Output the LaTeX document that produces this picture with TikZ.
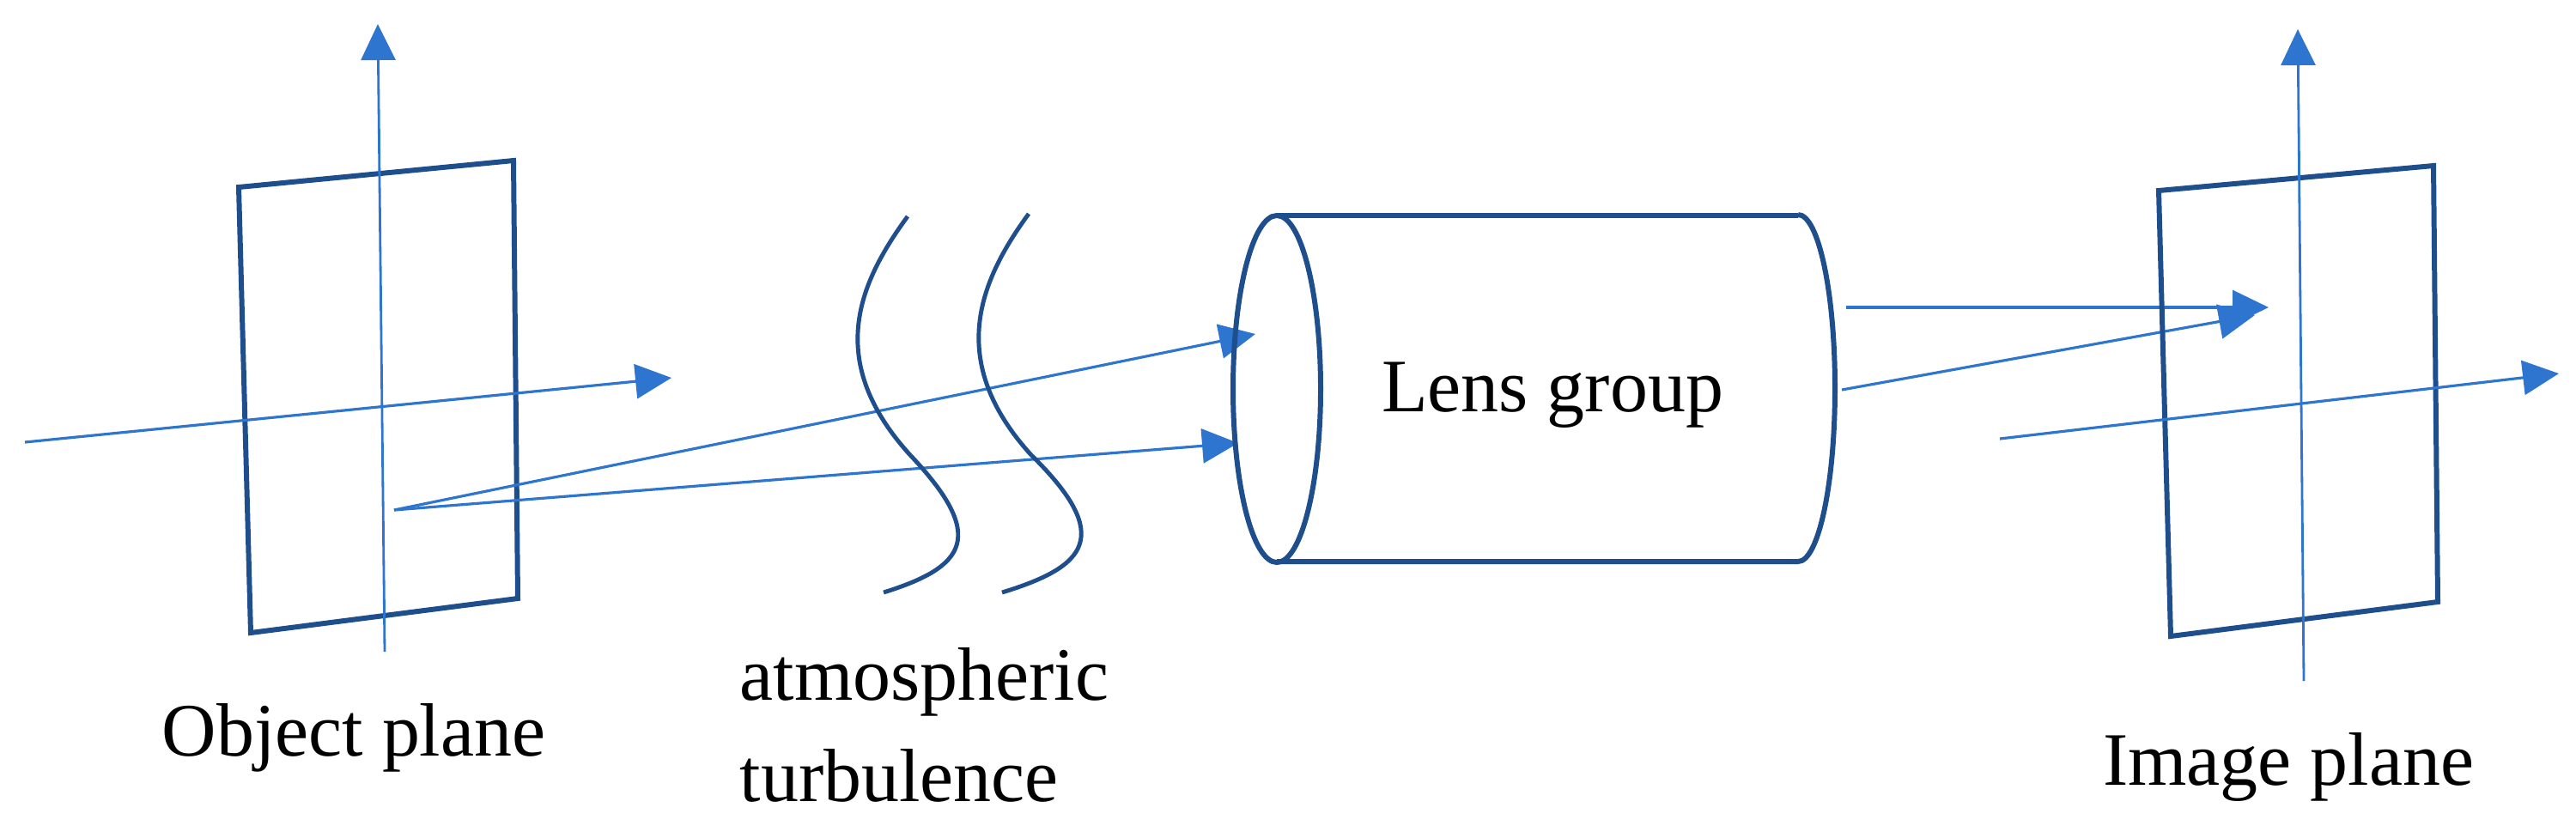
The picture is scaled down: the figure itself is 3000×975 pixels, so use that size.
\documentclass[tikz,border=0pt]{standalone}
\usepackage{fontspec}
\setmainfont{Liberation Serif}
\usetikzlibrary{arrows.meta}
\definecolor{frame}{HTML}{1F4E8C}
\definecolor{ray}{HTML}{2E75D0}
\begin{document}
\begin{tikzpicture}[x=0.01cm,y=-0.01cm,
  box/.style={draw=frame,line width=1.7pt,line join=miter},
  axis/.style={draw=ray,line width=0.8pt},
  beam/.style={draw=ray,line width=0.9pt,-{Triangle[length=0.42cm,width=0.4cm]}},
  lbl/.style={font=\fontsize{25}{30}\selectfont,inner sep=0pt}]
\useasboundingbox (0,0) rectangle (3000,975);
% object plane
\draw[box] (278,218) -- (598,187) -- (603,697) -- (292,737) -- cycle;
\coordinate (ovb) at (448,759); \coordinate (ovt) at (440,28);
\draw[axis,-{Triangle[length=0.42cm,width=0.4cm]}] (ovb) -- (ovt);
\coordinate (ohl) at (29,515); \coordinate (ohr) at (782,440);
\draw[beam] (ohl) -- (ohr);
\coordinate (src) at (459,594);
\coordinate (t1) at (1462,389); \coordinate (t2) at (1442,516);
\draw[beam] (src) -- (t1);
\draw[beam] (src) -- (t2);
% turbulence
\draw[box,line width=1.4pt] (1057,252) .. controls (1000,330) and (960,420) .. (1060,530) .. controls (1150,625) and (1125,660) .. (1029,690);
\draw[box,line width=1.4pt] (1198,249) .. controls (1141,327) and (1101,420) .. (1201,530) .. controls (1298,625) and (1265,660) .. (1167,690);
\node[lbl,anchor=base west] (atm) at (861,815) {atmospheric};
\node[lbl,anchor=base west] (turb) at (861,933) {turbulence};
\node[lbl,anchor=base] (obj) at (412,880) {Object plane};
% lens group
\draw[box] (2094,251) -- (1487,251) arc[start angle=90,end angle=450,x radius=51,y radius=-202];
\draw[box] (1487,654) -- (2094,654) arc[start angle=-90,end angle=90,x radius=43,y radius=-202];
\node[lbl] (lens) at (1808,460) {Lens group};
% out rays
\coordinate (r1s) at (2150,358); \coordinate (r1e) at (2642,358);
\coordinate (r2s) at (2145,454); \coordinate (r2e) at (2626,367);
\draw[beam] (r1s) -- (r1e);
\draw[beam] (r2s) -- (r2e);
% image plane
\draw[box] (2514,222) -- (2834,193) -- (2839,701) -- (2528,741) -- cycle;
\coordinate (ivb) at (2683,793); \coordinate (ivt) at (2676,34);
\draw[axis,-{Triangle[length=0.42cm,width=0.4cm]}] (ivb) -- (ivt);
\coordinate (ihl) at (2329,511); \coordinate (ihr) at (2980,435);
\draw[beam] (ihl) -- (ihr);
\node[lbl,anchor=base] (img) at (2665,914) {Image plane};
\end{tikzpicture}
\end{document}
